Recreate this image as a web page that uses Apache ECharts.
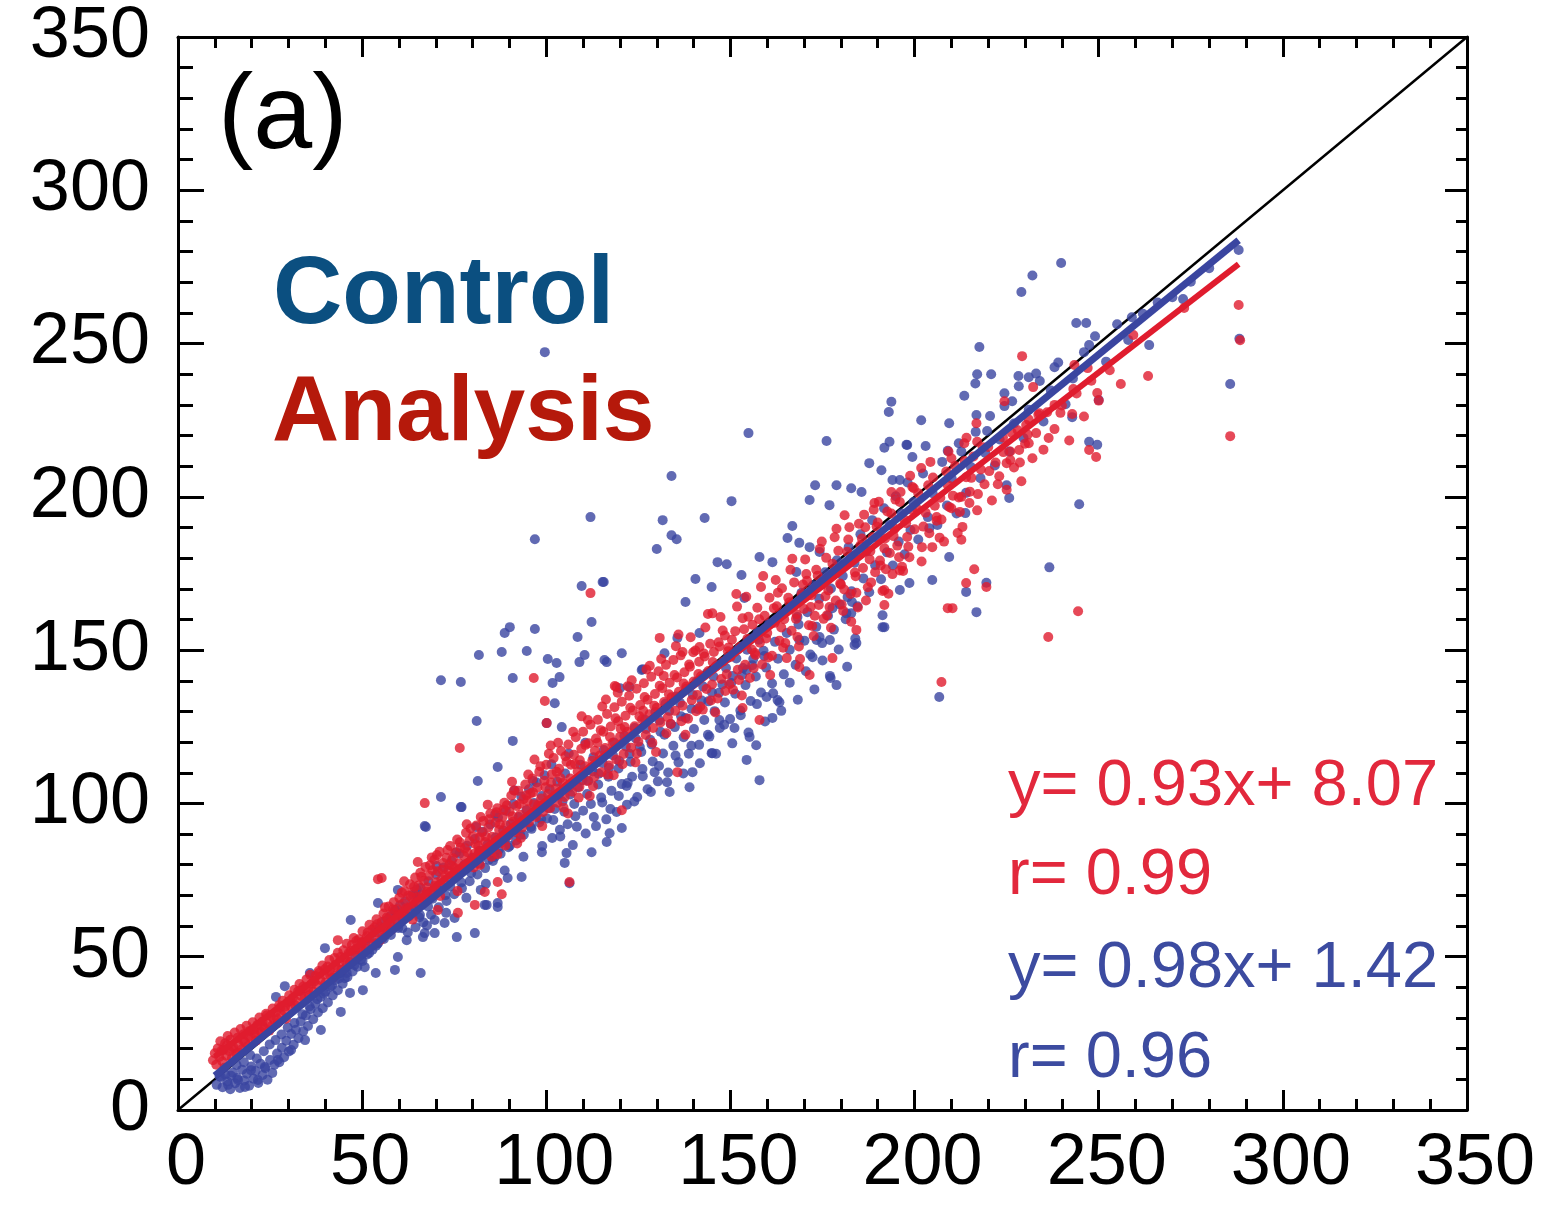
<!DOCTYPE html>
<html><head><meta charset="utf-8">
<script src="https://cdn.jsdelivr.net/npm/echarts@6/dist/echarts.min.js"></script>
<style>html,body{margin:0;padding:0;background:#fff}#c{width:1549px;height:1208px}</style>
</head><body><div id="c"></div>
<script>
const axisMin = 0, axisMax = 350, majorStep = 50;
const tickLabels = ['0','50','100','150','200','250','300','350'];

const panelLabel = '(a)';
const legendTexts = ['Control', 'Analysis'];
const statTexts = ['y= 0.93x+ 8.07', 'r= 0.99', 'y= 0.98x+ 1.42', 'r= 0.96'];

const oneToOne = [[0,0],[350,350]];
const redFit = [[10,17.4],[288,275.9]];
const blueFit = [[10,11.2],[288,283.7]];

const blueBand = [
[10.5,8.2],[11.3,10.9],[12.1,7.4],[12.8,11.6],[13.4,9.3],[14.2,6.8],[14.9,12.2],[15.5,8.7],[16.1,10.4],[16.8,7.2],[17.4,13.1],[18,9.6],[18.7,11.8],[19.3,7.9],[19.9,14.2],[20.5,10.2],[21.1,12.7],[21.8,8.8],[22.4,15.1],[23,11.4],[23.7,13.6],[24.3,9.9],[25,16.3],[25.6,12.1],[26.2,14.8],[26.9,18.4],[27.5,15.6],[28.2,20.3],[28.8,17.2],[29.4,22.6],[30.1,19.1],[30.7,24.8],[31.4,21.3],[32,26.2],[32.7,23.4],[33.3,28.9],[34,25.7],[34.7,30.8],[35.3,27.4],[36,32.9],[36.7,29.6],[37.3,34.7],[38,31.8],[38.7,36.9],[39.3,33.2],[40,38.6],[40.7,35.1],[41.3,40.2],[42,37.4],[42.7,42.3],[43.4,39.1],[44,44.6],[44.7,41.2],[45.4,46.3],[46,43.4],[46.7,48.1],[47.4,45.2],[48.1,50.2],[48.7,46.7],[49.4,52.3],[50.1,48.6],[50.8,54.1],[51.4,50.7],[52.1,55.9],[52.8,52.3],[53.5,58.1],[54.2,54.2],[54.8,59.7],[55.5,56.1],[56.2,61.6],[56.9,57.8],[57.6,63.2],[58.2,59.4],[58.9,64.9],[59.6,61.1],
[60.3,66.8],[61,62.4],[61.7,68.1],[62.4,57.9],[63.1,64.8],[63.8,70.2],[64.5,59.6],[65.2,66.9],[65.9,72.4],[66.6,61.2],[67.3,69.3],[68,74.6],[68.7,63.7],[69.4,71.2],[70.1,76.8],[70.8,66.1],[71.5,73.4],[72.2,79.1],[72.9,68.2],[73.6,75.5],[74.3,81.2],[75,70.4],[75.7,77.9],[76.4,83.6],[77.1,72.3],[77.8,80.1],[78.5,86.2],[79.2,74.6],[79.9,82.3],[80.6,88.4],[81.3,76.8],[82,84.6],[82.7,90.8],[83.4,78.9],[84.1,86.7],[84.8,93.1],[85.5,81.2],[86.2,88.9],[86.9,95.4],[87.6,83.6],[88.3,91.2],[89,97.6],[89.7,85.7],[90.4,93.4],[91.1,99.8],[91.8,87.9],[92.5,95.6],[93.2,102.3],[93.9,89.8],[94.6,97.8],[95.3,104.6],[96,91.7],[96.7,100.1],[97.4,106.8],[98.1,93.8],[98.8,102.4],[99.5,109.2],
[100.2,95.1],[100.9,104.6],[101.6,88.7],[102.3,98.2],[103,107.1],[103.7,91.4],[104.4,100.6],[105.1,109.8],[105.8,93.2],[106.5,102.9],[107.2,86.4],[107.9,95.8],[108.6,105.3],[109.3,112.6],[110,97.6],[110.7,90.2],[111.4,107.4],[112.1,99.8],[112.8,115.1],[113.5,92.6],[114.2,109.7],[114.9,101.9],[115.6,117.4],[116.3,94.8],[117,111.6],[117.7,104.1],[118.4,119.9],[119.1,97.2],[119.8,113.8],[120.5,106.3],[121.2,122.1],[121.9,99.6],[122.6,116.2],[123.3,108.7],[124,124.6],[124.7,102.1],[125.4,118.4],[126.1,111.2],[126.8,127.3],[127.5,104.6],[128.2,120.8],[128.9,113.7],[129.6,129.8],[130.3,107.2],[131,123.4],[131.7,116.3],[132.4,132.6],[133.1,110.1],[133.8,125.9],[134.5,118.8],[135.2,134.9],[135.9,113.4],[136.6,128.4],[137.3,121.6],[138,137.4],[138.7,116.2],[139.4,130.9],[140.1,124.3],[140.8,139.8],[141.5,119.1],[142.2,133.6],[142.9,127.2],[143.6,142.5],[144.3,121.8],[145,136.2],[145.7,130.1],[146.4,145.1],[147.1,124.6],[147.8,138.8],[148.5,132.9],[149.2,147.4],[149.9,127.5],[150.6,141.6],[151.3,135.8],[152,150.2],[152.7,130.3],[153.4,144.2],[154.1,138.6],[154.8,153.1],[155.5,133.4],[156.2,147.1],[156.9,141.4],[157.6,155.8],[158.3,136.2],[159,149.8],[159.7,144.3],
[160.5,158.6],[161.3,139.1],[162.1,152.7],[162.9,147.2],[163.7,161.4],[164.5,142.1],[165.3,155.6],[166.1,150.1],[166.9,164.3],[167.7,145.2],[168.5,158.4],[169.3,168.7],[170.1,153.1],[170.9,162.4],[171.7,148.6],[172.5,171.2],[173.3,157.6],[174.1,166.8],[174.9,152.3],[175.7,175.4],[176.5,161.2],[177.3,170.1],[178.1,156.7],[178.9,179.3],[179.7,164.9],[180.5,174.2],[181.3,160.1],[182.1,183.6],[182.9,169.2],[183.7,178.5],[184.5,164.3],[185.3,187.8],[186.1,173.4],[186.9,182.2],[187.7,168.9],[188.5,192.4],[189.3,177.7],[190.1,186.6],[190.9,173.1],[191.7,196.3],[192.5,181.9],[193.3,190.8],[194.1,177.6],[194.9,200.2],[195.7,185.4],[196.5,194.6],[197.3,181.3],[198.1,204.7],[198.9,189.2],[199.7,198.3],
[201,186.1],[202.3,207.6],[203.6,193.4],[204.9,201.2],[206.2,190.8],[207.5,211.4],[208.8,197.2],[210.1,205.9],[211.4,194.6],[212.7,214.8],[214,201.3],[215.3,209.7],[216.6,221.2],[217.9,206.1],[219.2,214.3],[220.5,226.4],[221.8,210.2],[223.1,218.7],[224.4,229.6],[225.7,214.8],[227,223.9],[228.3,236.1],[229.6,219.2],[231,228.4],[233,240.2],[235,224.6],[237,234.7],[239,243.8],[241,230.2],[243,238.6],[246,247.2],[249,252.4],[252,244.1],[255,256.3],[258,251.2],[262,259.7],[266,263.4],[270,265.1],[275,270.2],[280,274.6]
];

const blueBand2 = [
[12.6,13.8],[14.4,11.2],[15.9,14.7],[17.9,15.6],[19.6,17.9],[21.4,16.8],[23.3,19.2],[24.9,21.4],[26.5,22.8],[28.1,24.6],[29.8,26.9],[31.6,28.4],[33.8,31.2],[35.7,33.8],[37.8,36.1],[39.6,37.9],[41.8,40.6],[43.7,42.9],[45.8,44.7],[47.9,47.3],[49.7,49.1],[51.9,51.2],[53.8,53.6],[55.9,55.8],[57.8,57.1],[59.8,59.4],
[60.9,59.3],[62.7,63.1],[64.2,65.8],[65.5,62.9],[67.9,66.4],[69.1,68.9],[70.6,71.8],[72.6,70.1],[73.9,72.9],[75.4,76.1],[76.9,74.2],[78.1,78.8],[79.6,77.3],[81.8,80.4],[83.1,83.7],[84.4,81.6],[85.9,86.2],[87.1,84.9],[88.8,88.3],[90.1,86.2],[91.6,91.4],[92.9,89.7],[94.3,93.8],[95.8,92.3],[97.1,96.2],[98.6,94.9],
[100.6,98.4],[101.9,94.6],[103.4,102.8],[104.9,97.3],[106.2,105.2],[107.6,99.8],[109.8,107.6],[111.1,103.1],[112.6,110.4],[114.1,106.2],[115.3,113.2],[116.9,108.7],[118.1,115.7],[119.6,111.4],[121.6,118.6],[122.9,113.6],[124.3,121.2],[125.8,116.8],[127.1,124.3],[128.6,119.2],[130.7,127.1],[132.1,122.4],[133.4,130.2],[134.9,124.9],[136.3,132.8],[137.8,127.9],[139.8,135.4],[141.1,130.8],[142.6,138.1],[144,133.3],[145.4,141.4],[146.9,136.1],[148.8,144.2],[150.2,139.3],[151.6,147.3],[153.1,141.8],[154.5,150.1],[155.9,145.1],[157.7,153.4],[159.2,148.1]
];

const blueBand3 = [
[62.1,55.4],[64.8,71.9],[67.6,60.2],[70.2,79.6],[72.8,64.3],[75.6,84.1],[78.3,69.2],[80.9,92.3],[83.6,73.8],[86.1,96.4],[88.7,78.1],[91.4,104.2],[93.8,82.6],[96.4,107.3],[98.9,86.1],[101.4,112.8],[103.8,89.2],[106.1,116.3],[108.3,92.4],[110.6,119.8],[112.9,95.6],[115.2,100.3],[117.4,98.2],[119.7,102.4],[121.8,105.7],[123.9,100.6],[126.2,108.9],[128.4,103.7],[130.6,112.2],[132.8,106.9],[135.1,115.6],[137.2,109.8],[139.4,118.8],[141.7,113.1],[143.9,122.4],[146.1,116.2],[148.3,125.7],[150.5,119.6],[152.8,128.8],[154.9,123.1],[157.2,132.4],[159.4,126.7],[161.6,135.9],[163.8,130.2],[166.1,139.4],[168.3,133.8],[170.5,143.1],[172.8,137.2],[175,146.6],[177.2,140.9],[179.4,150.2],[181.7,144.6],[183.9,153.8]
];

const blueOutliers = [
[232,272.2],[239.8,276.3],[229,266.8],[243.9,256.7],[246.6,256.7],[217.6,248.9],[288,280.5],[272.9,264.5],[259,258.6],[263.7,249.5],[247.4,249.5],[285.7,236.8],[288.2,251.6],[217,240],[220.8,240],[228.2,239.4],[231,239],[234,237.8],[216.5,237],[213.5,233],[224.4,233.8],[226.5,231.2],[238,242.3],[250,231.6],[242.8,226],[193.7,231],[193,227.7],[216.8,226.7],[201.8,225],[209.4,224],[193.2,218],[191.8,216],[198,216.9],[203,216.6],[199.4,213],[209,215],[212,217.5],[219.7,221.5],[247.4,218],[249.6,217],[191,208.7],[194,205.5],[196,205.5],[225,203.8],[225.7,199.6],[244.7,197.6],[213.8,194.7],[204,189.8],[209.4,180.4],[236.6,177],[204.8,172.9],[198.6,171.9],[196,169.6],[214,169],[219.5,172],[216.8,162.4],[191.3,161.4],[206.7,134.7],
[154.9,220.8],[176.1,218.2],[134,206.8],[150.3,198.6],[131.6,192.4],[143,193.1],[134,187.5],[135.4,186.2],[130,183],[115.6,172.2],[146.5,178.7],[149,178],[140.5,173.2],[144.9,170.6],[153,174.5],[157.9,180.4],[161.4,178.7],[137.8,165.7],[153.8,167],[167.9,175.5],[166.8,190.5],[165.5,186.6],[168.7,185],[171.5,199],[173,203.8],[178.8,203.8],[182.8,202.8],[185.6,201.6],[176.9,197.3],[187.7,211],[197.8,217],[171.5,183.6],[174.2,182],[183,165.7],[191.3,157.5],[181.5,162],[183.7,151.7],[174.2,154.3],[177,153.3],[177,141.6],[178.8,138.6],[168.7,153.3],[172.3,147.7],[120.5,149],[115.8,146.8],[141.6,155.6],[135.6,154],[126.2,143.8],[122.6,138],[154.4,143.5],[159.8,134.7],[163.3,133],[161.4,127.9],[155.2,121.7],[157,119],[151.1,124.6],[147,127.2],
[99.6,247.2],[112,193.4],[96.9,186.2],[109.6,170.9],[115.3,172.2],[157.9,107.6],[144.9,116.4],[154.4,114.2],[162.8,133.7],[182.8,162],[184.2,152.3],[177.7,163.7],[191.8,157.5],[181.8,167.3],[173.4,153.3],[168.2,160.8],[157.4,155.9],
[90.1,157.5],[88.7,155.6],[96.9,156.9],[112.3,159.2],[81.7,148.4],[87.9,149.4],[94.7,149.7],[108.5,154.3],[100.4,147.1],[102.8,145.8],[109,146.1],[110.4,148.4],[116.4,146.1],[71.4,140.2],[76.8,139.6],[90.9,140.9],[103.6,141.2],[101.7,139.3],[102.3,132.7],[81.1,126.9],[90.9,120.4],[100.1,126.2],[104.2,124.9],[86.8,111.9],[81.4,107.3],[71.4,102.1],[67.3,92.3],[77,98.8],[132.1,149],[120,137.6],[125.9,143.5],[133.5,103.7],[138.9,105.3],[139.7,110.2],[145.1,116.4],[129.4,110.2],[122.1,106.7],[116.4,87.4],[112.3,84.1],[105.5,83.8],[105,80.6],[106.3,74],[98.8,84.1],[120.5,92],[117.2,90.3],[89.5,75.7],[93.3,76],[83.8,66.9],[80.6,57.7],[86.8,67.5],[67,57.7],[75.7,56.4],
[67,92.6],[76.8,98.8],[39.9,52.8],[35.8,44.7],[29,40.4],[26.6,36.9],[65.9,44.7],[58.9,45.7],[69.7,57.7],[66.5,56.4],[59.7,49.9],[54.3,54.5],[53.7,44.7],[50.2,39.1],[46.7,38.2],[44.2,32],[38.8,26.1],[34.5,22.8],[30.7,19.6],[27.1,16.3],[23.6,14],[19.8,13],[16.3,9.8],[13.6,8.2],[21.7,9.8],[18.2,7.5],[11.7,10.8],[86.8,66.2],[83.3,66.9],[75.1,62.6],[72.4,61],[82.2,71.8],[86,82.5],[54.3,67.5],[59.7,71.8],[46.9,62],[65.1,69.5],[65.7,63.6],[69.7,62],[58.9,65.2],[50.7,46.6],[45.3,43]
];

const redBand = [
[9.5,16.2],[10,18.5],[10.4,14.8],[10.8,20.1],[11.2,17.3],[11.5,22.4],[12,15.9],[12.3,19.6],[12.8,21.8],[13.1,17.7],[13.5,24.1],[13.9,19.2],[14.2,22.9],[14.6,16.8],[15,20.5],[15.4,25.3],[15.8,18.4],[16.2,23.6],[16.5,21.2],[17,26.4],[17.3,19.8],[17.8,24.7],[18.2,22.1],[18.6,27.5],[19,20.9],[19.5,25.8],[19.9,23.4],[20.3,28.6],[20.8,24.9],[21.2,22.6],[21.6,27.8],[22.1,30.2],[22.5,25.5],[23,28.9],[23.4,26.7],[23.9,31.4],[24.3,28.2],[24.8,25.9],[25.2,30.6],[25.7,33.1],[26.1,29.4],[26.6,31.9],[27,28.3],[27.5,34.2],[28,31.2],[28.4,35.6],[28.9,32.4],[29.3,29.8],[29.8,35.1],[30.2,37.4],
[30.7,33.8],[31.2,36.6],[31.6,39.2],[32.1,35.4],[32.6,38.7],[33,41.1],[33.5,37.2],[34,40.3],[34.4,36.9],[34.9,42.6],[35.4,39.5],[35.9,44.1],[36.3,41.2],[36.8,38.6],[37.3,43.7],[37.7,40.8],[38.2,45.3],[38.7,42.4],[39.2,47.1],[39.6,44.2],[40.1,41.5],[40.6,46.8],[41.1,48.9],[41.5,45.1],[42,43.2],[42.5,49.6],[43,46.4],[43.4,51.3],[43.9,48.2],[44.4,45.7],[44.9,52.1],[45.3,49.7],[45.8,54.2],[46.3,51.1],[46.8,48.3],[47.2,53.8],[47.7,56.1],[48.2,52.4],[48.7,50.2],[49.1,55.7],[49.6,53.1],[50.1,58.3],[50.6,55.2],[51,52.6],[51.5,57.9],[52,60.4],[52.5,56.3],[52.9,54.1],[53.4,59.6],[53.9,62.2],[54.4,57.8],[54.8,55.4],[55.3,61.3],[55.8,64.1],[56.3,59.2],[56.7,62.8],[57.2,66.4],[57.7,60.7],[58.2,63.9],[58.6,67.8],[59.1,62.3],[59.6,65.5],
[60.1,69.2],[60.6,64.1],[61.1,67.3],[61.5,71.4],[62,65.8],[62.5,69.9],[63,73.6],[63.4,67.2],[63.9,71.1],[64.4,75.8],[64.9,69.4],[65.3,73.2],[65.8,77.4],[66.3,70.1],[66.8,74.8],[67.2,79.3],[67.7,72.6],[68.2,76.5],[68.7,70.9],[69.1,78.2],[69.6,81.6],[70.1,74.3],[70.6,77.9],[71,84.2],[71.5,75.2],[72,80.6],[72.5,73.8],[72.9,82.3],[73.4,78.1],[73.9,86.1],[74.4,79.6],[74.8,76.4],[75.3,83.9],[75.8,88.2],[76.3,80.4],[76.7,85.6],[77.2,78.1],[77.7,82.9],[78.2,90.4],[78.6,84.1],[79.1,87.7],[79.6,81.2],[80.1,89.3],[80.5,83.6],[81,92.8],[81.5,86.2],[82,79.9],[82.4,90.6],[82.9,94.3],[83.4,87.4],[83.9,84.1],[84.3,92.2],[84.8,96.7],[85.3,89.1],[85.8,85.6],[86.2,93.8],[86.7,98.4],[87.2,91.3],[87.7,87.2],[88.1,95.6],[88.6,100.2],[89.1,92.8],[89.6,89.4],[90,97.3],[90.5,102.6],[91,94.1],[91.5,90.7],[91.9,99.2],[92.4,104.1],[92.9,96.3],[93.4,92.1],[93.8,101.4],[94.3,106.2],[94.8,98.1],[95.3,93.9],[95.7,103.3],[96.2,108.1],[96.7,99.7],[97.2,95.6],[97.6,105.2],[98.1,110.3],[98.6,101.6],[99.1,97.2],[99.5,107.4],
[100,112.6],[100.5,103.1],[101,98.4],[101.5,109.5],[102,114.8],[102.5,104.9],[103,100.2],[103.5,111.3],[104,117.1],[104.5,106.7],[105,102.1],[105.5,113.6],[106,119.2],[106.5,108.1],[107,103.8],[107.5,115.9],[108,121.6],[108.5,110.3],[109,105.4],[109.5,117.8],[110,123.4],[110.5,112.1],[111,107.3],[111.5,119.6],[112,125.7],[112.5,113.9],[113,108.6],[113.5,121.2],[114,127.3],[114.5,115.6],[115,110.2],[115.5,123.4],[116,118.1],[116.5,129.2],[117,112.4],[117.5,125.1],[118,119.8],[118.5,131.4],[119,114.3],[119.5,126.8],[120,121.7],[120.5,133.2],[121,116.1],[121.5,128.6],[122,123.4],[122.5,135.1],[123,118.2],[123.5,130.3],[124,125.2],[124.5,137.4],[125,120.1],[125.5,132.1],[126,127.4],[126.5,139.2],[127,122.3],[127.5,133.8],[128,129.1],[128.5,141.3],[129,124.6],[129.5,135.7],[130,131.2],[130.5,143.1],[131,126.4],[131.5,137.6],[132,133.1],[132.5,145.2],[133,128.1],[133.5,139.4],[134,134.6],[134.5,146.8],[135,130.2],[135.5,141.1],[136,136.4],[136.5,148.3],[137,131.9],[137.5,142.8],[138,138.1],[138.5,127.6],[139,144.6],[139.5,133.7],[140,139.8],[140.5,149.9],[141,135.4],[141.5,146.2],[142,141.5],[142.5,130.6],[143,147.9],[143.5,137.3],[144,143.2],[144.5,152.1],[145,138.8],[145.5,149.4],[146,144.7],[146.5,134.2],[147,151.2],[147.5,140.6],[148,146.3],[148.5,154.8],[149,142.1],[149.5,150.9],
[150,147.8],[150.7,137.1],[151.3,156.2],[152,143.6],[152.6,151.1],[153.3,160.4],[154,145.2],[154.6,153.7],[155.3,140.9],[156,158.3],[156.6,149.1],[157.3,163.8],[158,152.4],[158.6,145.3],[159.3,161.2],[160,155.6],[160.6,167.1],[161.3,148.2],[162,158.9],[162.6,164.3],[163.3,153.1],[164,170.2],[164.6,160.1],[165.3,147.4],[166,165.6],[166.6,156.3],[167.3,172.1],[168,161.7],[168.6,151.2],[169.3,168.3],[170,163.4],[170.6,174.8],[171.3,158.1],[172,167.9],[172.6,154.6],[173.3,176.2],[174,164.7],[174.6,171.3],[175.3,160.2],[176,180.1],[176.6,169.5],[177.3,157.3],[178,175.2],[178.6,166.2],[179.3,182.4],[180,171.4],[180.6,162.8],[181.3,177.9],[182,186.1],[182.6,168.3],[183.3,180.6],[184,174.1],[184.6,163.9],[185.3,184.2],[186,176.8],[186.6,190.1],[187.3,170.5],[188,182.3],[188.6,186.8],[189.3,175.4],[190,191.6],[190.6,179.2],[191.3,169.3],[192,186.4],[192.6,195.2],[193.3,181.7],[194,174.8],[194.6,189.6],[195.3,184.1],[196,198.3],[196.6,177.2],[197.3,192.5],[198,186.9],[198.6,180.3],[199.3,195.7],
[200,189.4],[201,201.2],[202,183.6],[203,194.8],[204,188.1],[205,206.3],[206,192.2],[207,199.7],[208,185.4],[209,203.9],[210,196.3],[211,210.1],[212,199.8],[213,190.2],[214,206.4],[215,201.7],[216,213.2],[217,195.6],[218,208.9],[219,204.1],[220,216.3],[221,198.8],[222,211.2],[223,206.7],[224,219.4],[225,202.3],[226,214.8],[227,209.6],[228,221.7],[229,205.1],[230,217.3],[231,225.2],[232,212.6],[233,220.8],[235,215.4],[236,227.6],[238,222.1],[240,229.8],[242,218.4],[244,233.7],[246,226.2],[248,237.9],[250,231.4],[253,241.3],[256,236.8]
];

const redBand2 = [
[11.8,19.4],[13.3,21.1],[14.8,19.9],[16.4,18.6],[17.6,22.8],[19.2,24.1],[20.6,26.3],[21.9,25.1],[22.8,27.6],[24.1,30.9],[25.4,27.4],[26.8,29.9],[27.8,33.5],[29.1,33.8],[30.5,35.6],[31.9,34.1],[33.2,38.9],[34.6,39.8],[35.6,37.4],[37,41.9],[38.4,44.8],[39.9,45.9],[41.3,44.1],[42.7,47.3],[44.1,49.9],[45.6,48.4],[47,51.9],[48.4,55.1],[49.9,54.6],[51.3,56.7],[52.7,58.8],[54.1,60.6],[55.6,58.9],[57,62.1],[58.4,65.4],[59.9,63.6],
[60.8,70.9],[61.9,63.2],[63.2,69.6],[64.1,72.8],[65.6,67.4],[66.1,76.1],[67.5,71.2],[68.4,79.8],[69.8,73.1],[70.3,83.2],[71.8,78.4],[72.7,76.5],[73.2,84.8],[74.6,82.1],[75.1,78.9],[76.5,87.3],[77.9,85.4],[78.8,80.6],[79.4,91.8],[80.8,86.7],[81.7,84.3],[82.2,95.6],[83.6,89.2],[84.5,94.8],[85.1,82.6],[86.5,97.1],[87.4,93.2],[88.9,86.3],[89.3,99.4],[90.8,95.8],[91.2,104.2],[92.7,99.8],[93.1,88.7],[94.6,102.7],[95.1,109.4],[96.4,103.6],[97.8,99.3],[98.4,112.1],[99.8,105.3],
[100.7,116.2],[101.3,106.8],[102.8,110.3],[103.2,119.8],[104.7,98.6],[105.2,115.4],[106.7,112.6],[107.3,123.4],[108.8,101.9],[109.1,114.1],[110.6,119.1],[111.3,127.2],[112.7,105.6],[113.2,117.2],[114.8,123.9],[115.2,131.6],[116.7,109.4],[117.3,121.7],[118.8,127.8],[119.4,136.1],[120.7,112.8],[121.3,124.9],[122.8,131.2],[123.2,140.2],[124.6,116.3],[125.3,128.4],[126.7,134.7],[127.2,143.7],[128.8,119.8],[129.3,131.9],[130.8,138.4],[131.2,147.1],[132.6,122.9],[133.3,135.6],[134.8,141.9],[135.2,151.3],[136.7,126.8],[137.3,139.1],[138.8,145.3],[139.2,154.2],[140.7,130.1],[141.3,142.2],[142.8,148.9],[143.2,157.4],[144.7,133.6],[145.2,146.1],[146.8,152.6],[147.3,160.8],[148.6,136.7],[149.3,149.6],
[150.4,153.4],[151.8,164.2],[152.3,140.3],[153.7,156.8],[154.3,167.4],[155.8,150.2],[156.3,144.1],[157.8,160.1],[158.3,170.6],[159.7,153.8],[160.3,147.6],[161.8,163.7],[162.3,172.9],[163.8,157.4],[164.3,150.8],[165.7,167.1],[166.3,176.2],[167.8,160.2],[168.2,154.3],[169.7,171.4],[170.3,179.6],[171.8,164.1],[172.2,157.9],[173.7,174.3],[174.3,183.1],[175.8,167.6],[176.2,161.4],[177.7,178.2],[178.3,186.8],[179.8,171.7],[180.2,164.9],[181.7,182.1],[182.3,190.1],[183.8,175.3],[184.2,168.7],[185.7,186.4],[186.3,194.2],[187.8,179.6],[188.2,172.1],[189.7,190.3],[190.3,198.4],[191.8,183.2],[192.2,176.4],[193.7,194.6],[194.3,187.2],[195.8,180.3],[196.2,201.6],[197.7,191.4],[198.3,183.7],[199.8,202.8],
[200.6,196.1],[202.4,190.3],[203.7,203.8],[205.5,197.1],[207.3,192.6],[208.6,208.3],[210.4,200.4],[212.3,195.1],[213.6,211.7],[215.4,206.2],[217.2,200.9],[218.5,216.2],[220.3,208.4],[222.6,204.1],[224.1,214.6],[226.4,220.9],[228.6,211.2],[230.7,220.3],[233.6,226.8],[236.4,219.2],[239.6,227.4],[243.1,235.2]
];

const redBand3 = [
[56.2,66.1],[57.9,58.8],[61.4,74.6],[63.7,62.1],[66.9,68.9],[68.9,82.4],[71.2,69.8],[73.7,80.1],[75.9,71.4],[78.4,93.2],[80.3,79.1],[81.9,88.9],[84.1,99.6],[86.7,83.4],[88.4,97.9],[90.7,107.1],[92.1,86.9],[94.9,100.8],[96.8,114.3],[98.9,92.6],[101.2,118.9],[103.8,108.3],[105.9,96.7],[107.8,112.9],[109.6,128.4],[111.8,102.4],[113.9,119.8],[116.2,133.9],[118.3,109.2],[120.2,124.4],[122.1,138.2],[124.2,113.4],[126.3,130.2],[128.1,144.9],[129.8,116.8],[131.9,141.6],[133.8,125.9],[135.9,155.1],[137.8,122.4],[139.9,149.3],[141.8,131.6],[143.9,161.8],[145.9,129.7],[147.9,156.4],[149.7,138.9],[151.6,168.3],[153.1,135.2],[154.9,160.9],[156.8,148.4],[158.9,174.2],[160.8,141.9],[162.9,168.7],[164.9,152.3],[166.8,179.8],[168.9,147.1],[170.8,172.6],[172.9,161.2],[174.8,185.4],[176.9,164.1],[178.8,189.6],[180.9,169.8],[182.8,159.3],[184.9,191.2],[186.8,166.2],[188.9,195.8],[190.8,177.6],[192.9,168.4],[194.8,199.1],[196.9,175.8],[198.8,206.9],[201.9,178.9],[204.3,211.4],[206.8,186.7],[209.2,214.8],[211.7,188.2],[214.1,219.3]
];

const redOutliers = [
[288,262.6],[288.4,251.1],[285.7,219.8],[263.4,239.4],[259.4,252.8],[273.2,261.6],[229.2,245.9],[232.2,235.8],[243.4,243],[247,242],[242.8,227],[249.6,233.9],[247.4,215.3],[249.3,213],[224.4,231.2],[238,230],[233.9,227.3],[230.3,223.4],[231,217.5],[228.4,215.3],[225,211],[226,212],[216.8,224],[217,218],[213.5,217.5],[210,212.6],[201.8,209.4],[212.7,200],[214.9,198],[199.4,203.2],[209.4,196.7],[206,193.4],[204.8,183.6],[212.7,186],[216.2,176.4],[214,171.9],[219.5,170.6],[210.3,163.7],[244.4,162.7],[196,176],[191.8,169.6],[191.8,164.7],[236.3,154.3],[207.3,139.6],[209,163.7],[193.7,201.6],[189.1,198],[181,194],[145.1,162],[130.8,154],[119,138],[171.5,141.9],[168.7,144.5],[177.7,147.4],[157.9,127.2],[153.3,131.1],[184.2,156.6],[96.6,140.9],[99.6,133.4],[100.1,126.2],[76.5,118.1],[67,100.1],[55.3,75.7],[106.3,74.4],[120.5,97.8],[80.6,66.9],[87.9,70.4],[76,64.3],[118.6,138.3],[137,149.4],[141.6,151],[135.6,110.2],[54.3,75.3],[43.4,55.4],[70.5,65.2],[86.8,74.4],[83.3,71.1],[65.1,80.9],[112,168.6]
];

const RED = '#e01c2e', BLUE = '#3a45a0';
const chart = echarts.init(document.getElementById('c'), null, {renderer: 'canvas'});
const FONT = 'Liberation Sans, Arial, Helvetica, sans-serif';

function mkAxis(dim, pos, showLabel, major, minor) {
  const a = {
    type: 'value', min: axisMin, max: axisMax, interval: majorStep, position: pos,
    splitLine: {show: false},
    axisLine: {show: true, onZero: false, lineStyle: {color: '#000', width: 3}},
    axisTick: {show: true, inside: true, length: major, lineStyle: {color: '#000', width: 3}},
    minorTick: {show: true, splitNumber: 5, length: minor, lineStyle: {color: '#000', width: 3}},
    axisLabel: {show: showLabel, color: '#000', fontSize: 72, fontFamily: FONT,
      formatter: v => tickLabels[Math.round(v / majorStep)]}
  };
  if (showLabel) {
    a.axisLabel.margin = dim === 'x' ? 18 : 28;
    if (dim === 'x') a.axisLabel.padding = [0, 0, 0, 16];
  }
  return a;
}

const option = {
  animation: false,
  backgroundColor: '#fff',
  grid: {left: 178, right: 82, top: 37, bottom: 98, outerBoundsMode: 'none', containLabel: false},
  xAxis: [mkAxis('x', 'bottom', true, 20, 11), mkAxis('x', 'top', false, 20, 11)],
  yAxis: [mkAxis('y', 'left', true, 26, 15), mkAxis('y', 'right', false, 22, 11)],
  series: [
    {type: 'line', data: oneToOne, symbol: 'none', z: 1, lineStyle: {color: '#000', width: 2.5}, silent: true},
    {type: 'scatter', data: blueBand.concat(blueBand2, blueBand3, blueOutliers), symbol: 'circle', symbolSize: 10, z: 2,
      itemStyle: {color: BLUE}},
    {type: 'scatter', data: redBand.concat(redBand2, redBand3, redOutliers), symbol: 'circle', symbolSize: 10, z: 3,
      itemStyle: {color: RED}},
    {type: 'line', data: redFit, symbol: 'none', z: 4, lineStyle: {color: RED, width: 6}},
    {type: 'line', data: blueFit, symbol: 'none', z: 5, lineStyle: {color: BLUE, width: 7}}
  ],
  graphic: [
    {type: 'text', x: 218, y: 119, z: 10, style: {text: panelLabel, fill: '#000', fontSize: 106, fontFamily: FONT, verticalAlign: 'middle'}},
    {type: 'text', x: 273, y: 297, z: 10, style: {text: legendTexts[0], fill: '#0b4f80', fontSize: 96, fontWeight: 'bold', fontFamily: FONT, verticalAlign: 'middle'}},
    {type: 'text', x: 272, y: 414, z: 10, style: {text: legendTexts[1], fill: '#b5190b', fontSize: 93, fontWeight: 'bold', fontFamily: FONT, verticalAlign: 'middle'}},
    {type: 'text', x: 1008, y: 787, z: 10, style: {text: statTexts[0], fill: '#e2283c', fontSize: 65, fontFamily: FONT, verticalAlign: 'middle'}},
    {type: 'text', x: 1008, y: 876, z: 10, style: {text: statTexts[1], fill: '#e2283c', fontSize: 65, fontFamily: FONT, verticalAlign: 'middle'}},
    {type: 'text', x: 1008, y: 969, z: 10, style: {text: statTexts[2], fill: '#3c4ba0', fontSize: 65, fontFamily: FONT, verticalAlign: 'middle'}},
    {type: 'text', x: 1008, y: 1059, z: 10, style: {text: statTexts[3], fill: '#3c4ba0', fontSize: 65, fontFamily: FONT, verticalAlign: 'middle'}}
  ]
};
chart.setOption(option);
</script></body></html>
